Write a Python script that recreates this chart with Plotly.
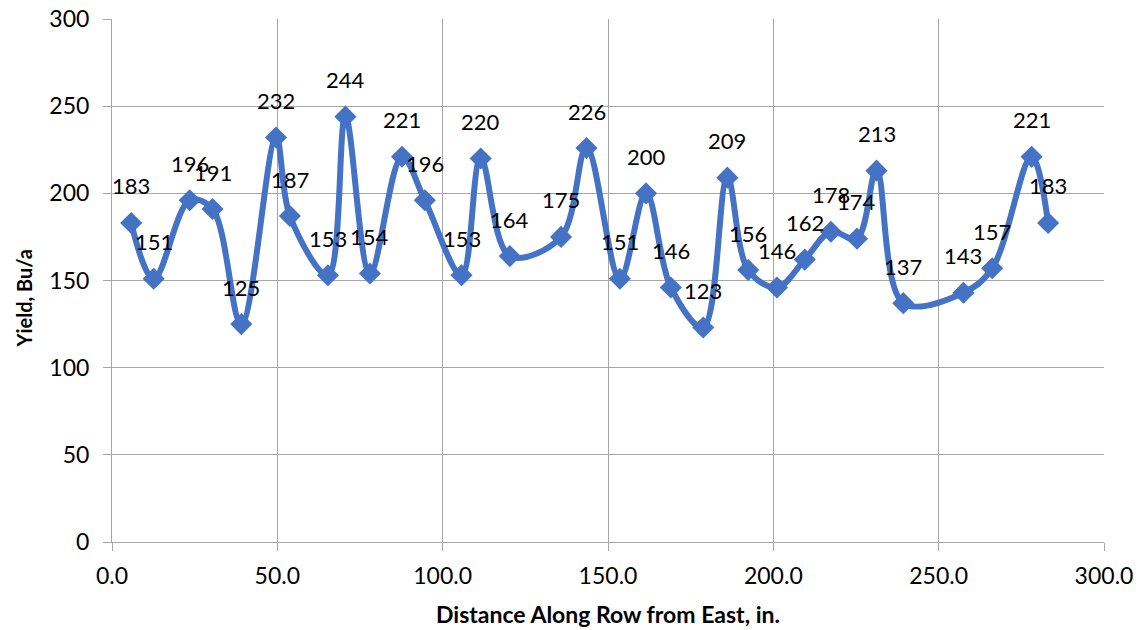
import plotly.graph_objects as go

distance_in = [5.8, 12.6, 23.5, 30.4, 39.1, 49.6, 53.8, 65.3, 70.6, 78.0, 87.7, 94.6,
               105.7, 111.5, 120.3, 135.8, 143.5, 153.6, 161.5, 169.0, 178.8, 186.1,
               192.4, 201.1, 209.5, 217.4, 225.3, 231.2, 239.3, 257.5, 266.2, 278.1, 283.1]
yield_bu = [183, 151, 196, 191, 125, 232, 187, 153, 244, 154, 221, 196,
            153, 220, 164, 175, 226, 151, 200, 146, 123, 209,
            156, 146, 162, 178, 174, 213, 137, 143, 157, 221, 183]

x_ticks = [0, 50, 100, 150, 200, 250, 300]
y_ticks = [0, 50, 100, 150, 200, 250, 300]

color = "#4472C4"
font_family = "Lato, 'Open Sans', sans-serif"

fig = go.Figure()
fig.add_trace(go.Scatter(
    x=distance_in, y=yield_bu, mode="lines+markers",
    line=dict(color=color, width=6, shape="spline", smoothing=1.0),
    marker=dict(symbol="diamond", size=17, color=color),
    showlegend=False, hoverinfo="x+y",
))

for xv, yv in zip(distance_in, yield_bu):
    fig.add_annotation(x=xv, y=yv, text=str(yv), showarrow=False,
                       yshift=37, font=dict(size=22, color="#000000", family=font_family))

fig.add_annotation(xref="paper", yref="paper", x=0.5, y=-0.138, xanchor="center", yanchor="middle",
                   text="<b>Distance Along Row from East, in.</b>", showarrow=False,
                   font=dict(size=23, color="#000000", family=font_family))
fig.add_annotation(xref="paper", yref="paper", x=-0.089, y=0.465, xanchor="center", yanchor="middle",
                   text="<b>Yield, Bu/a</b>", textangle=-90, showarrow=False,
                   font=dict(size=20, color="#000000", family=font_family))

grid = "#A6A6A6"
fig.update_layout(
    width=1138, height=630,
    margin=dict(l=112, r=34, t=19, b=88, autoexpand=False),
    paper_bgcolor="white", plot_bgcolor="white",
    font=dict(family=font_family, color="#000000"),
    xaxis=dict(
        range=[0, 300], tickvals=x_ticks, ticktext=[f"{v:.1f}" for v in x_ticks],
        showgrid=True, gridcolor=grid, gridwidth=1, zeroline=False,
        showline=True, linecolor=grid, linewidth=1, mirror=False,
        ticks="outside", ticklen=8, tickcolor=grid, automargin=False,
        ticklabelstandoff=5,
        tickfont=dict(size=23, family=font_family),
    ),
    yaxis=dict(
        range=[0, 300], tickvals=y_ticks,
        showgrid=True, gridcolor=grid, gridwidth=1, zeroline=False,
        showline=True, linecolor=grid, linewidth=1,
        ticks="outside", ticklen=8, tickcolor=grid, automargin=False,
        ticklabelstandoff=9,
        tickfont=dict(size=23, family=font_family),
    ),
)

fig.write_html("out.html")
